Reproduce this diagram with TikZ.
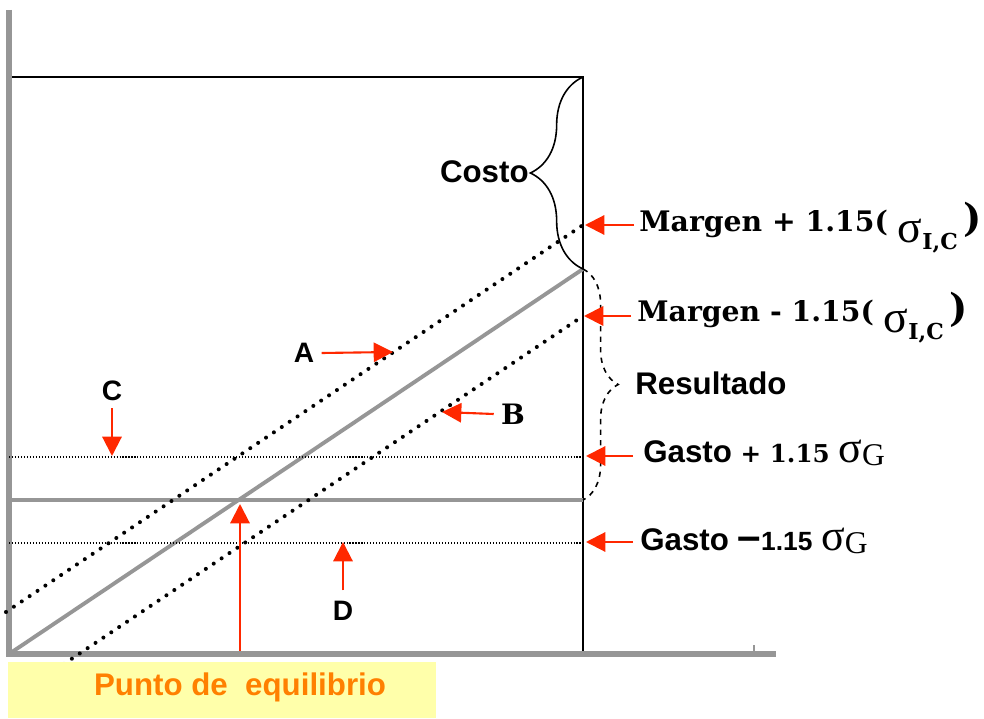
\documentclass[tikz,border=0pt]{standalone}
\usepackage{fontspec}
\setmainfont{Liberation Sans}
\newfontfamily\bookfont{DejaVu Serif}
\newfontfamily\timesfont{Liberation Serif}
\usepackage{tikz}
\usetikzlibrary{arrows.meta,decorations.pathreplacing}
\definecolor{arrowred}{RGB}{255,40,0}
\definecolor{axisgray}{RGB}{150,150,150}
\definecolor{boxyellow}{RGB}{255,255,170}
\definecolor{labelorange}{RGB}{255,128,0}
\newcommand{\sigmaIC}{\raisebox{-6pt}{{\timesfont\fontsize{26}{28}\selectfont\mdseries σ}\raisebox{-4pt}{\fontsize{12.5}{14}\selectfont I,C}}}
\newcommand{\sigmaG}{{\timesfont\mdseries\fontsize{25}{27}\selectfont σ\raisebox{-2pt}{\fontsize{18}{20}\selectfont G}}}

\begin{document}
\begin{tikzpicture}[x=0.02cm, y=-0.02cm,
    font=\fontsize{17.8}{20}\selectfont\bfseries,
    axis/.style={draw=axisgray, line width=3.3pt},
    grayline/.style={draw=axisgray, line width=2.2pt},
    blackline/.style={draw=black, line width=1.1pt},
    dotline/.style={line width=2.3pt, line cap=round, dash pattern=on 0pt off 5.4pt},
    thindot/.style={line width=0.6pt, dash pattern=on 0.6pt off 1.1pt},
    redarrow/.style={draw=arrowred, line width=1.2pt, -{Triangle[length=11pt,width=11pt]}},
    letter/.style={inner sep=0pt, font=\fontsize{16}{18}\selectfont\bfseries},
    sidelabel/.style={anchor=base west, inner sep=0pt},
    serifbold/.style={font=\bookfont\fontsize{16.1}{19}\selectfont\bfseries},
    bracebar/.style={decorate, decoration={brace, amplitude=#1}, line width=0.9pt}
  ]
  \useasboundingbox (0,0) rectangle (984,719);
  % frame
  \coordinate (O) at (9,654);
  \coordinate (ytop) at (9,10);
  \coordinate (xend) at (776,654);
  \coordinate (tl) at (9,77);
  \coordinate (tr) at (583,77);
  \coordinate (br) at (583,654);
  \coordinate (q) at (583,269);
  \coordinate (gl) at (9,500);
  \coordinate (gr) at (583,500);
  \draw[blackline] (tl) -- (tr) -- (br);
  \draw[axis] (ytop) -- (9,657);
  \draw[axis] (O) -- (xend);
  \draw[draw=axisgray, line width=1pt] (754,645) -- (754,652);
  % ingreso y gasto
  \draw[grayline] (O) -- (q);
  \draw[grayline] (gl) -- (gr);
  % bandas
  \coordinate (ua) at (6,612);
  \coordinate (ub) at (583,225);
  \coordinate (la) at (64,664);
  \coordinate (lb) at (583,316);
  \draw[dotline] (ua) -- (ub);
  \draw[dotline] (la) -- (lb);
  \coordinate (gpa) at (9,457);
  \coordinate (gpb) at (583,457);
  \coordinate (gma) at (9,543);
  \coordinate (gmb) at (583,543);
  \draw[thindot] (gpa) -- (gpb);
  \draw[thindot] (gma) -- (gmb);
  % llaves
  \draw[bracebar=30pt] (q) -- (tr);
  \draw[bracebar=20pt, dashed] (q) -- (gr);
  \node[anchor=east, inner sep=0pt] (costo) at (529,172) {Costo};
  \node[anchor=west, inner sep=0pt] (resultado) at (635,383) {Resultado};
  % etiquetas de la derecha
  \node[sidelabel, serifbold] (mplus) at (639,232) {Margen + 1.15( \sigmaIC\hspace{3pt}{\fontsize{22}{24}\selectfont)}};
  \node[sidelabel, serifbold] (mminus) at (637,322) {Margen - 1.15( \sigmaIC\hspace{3pt}{\fontsize{22}{24}\selectfont)}};
  \node[sidelabel] (gplus) at (643,462) {Gasto {\bookfont\fontsize{14}{16}\selectfont + 1.15} \sigmaG};
  \node[sidelabel] (gminus) at (640,550) {Gasto {\fontsize{24}{24}\selectfont –}{\fontsize{15}{17}\selectfont 1.15} \sigmaG};
  \coordinate (mplustail) at (634,225);
  \coordinate (mplushead) at (585,225);
  \coordinate (mminustail) at (631,316);
  \coordinate (mminushead) at (584,316);
  \coordinate (gplustail) at (633,456);
  \coordinate (gplushead) at (586,456);
  \coordinate (gminustail) at (633,542);
  \coordinate (gminushead) at (586,542);
  \draw[redarrow] (mplustail) -- (mplushead);
  \draw[redarrow] (mminustail) -- (mminushead);
  \draw[redarrow] (gplustail) -- (gplushead);
  \draw[redarrow] (gminustail) -- (gminushead);
  % letras
  \node[letter] (labA) at (304,353) {A};
  \node[letter, font=\bookfont\fontsize{16}{18}\selectfont\bfseries] (labB) at (513,414) {B};
  \node[letter] (labC) at (112,391) {C};
  \node[letter] (labD) at (343,611) {D};
  \coordinate (tipA) at (393,352);
  \coordinate (tipB) at (442,412);
  \coordinate (tipC) at (112,456);
  \coordinate (tipD) at (343,542);
  \draw[redarrow] ([xshift=4pt]labA.east) -- (tipA);
  \draw[redarrow] ([xshift=-4pt]labB.west) -- (tipB);
  \draw[redarrow] ([yshift=-4pt]labC.south) -- (tipC);
  \draw[redarrow] ([yshift=6pt]labD.north) -- (tipD);
  % punto de equilibrio
  \node[fill=boxyellow, minimum width=243.8pt, minimum height=31.7pt, inner sep=0pt] (eqbox) at (222,690) {};
  \node[anchor=base, inner sep=0pt, text=labelorange] (eqtext) at (240,695) {Punto de\ \ equilibrio};
  \coordinate (eqpoint) at (240,504);
  \draw[redarrow] (eqbox.north -| eqpoint) ++(0,-11) coordinate (eqfoot) (eqfoot) -- (eqpoint);
\end{tikzpicture}
\end{document}
